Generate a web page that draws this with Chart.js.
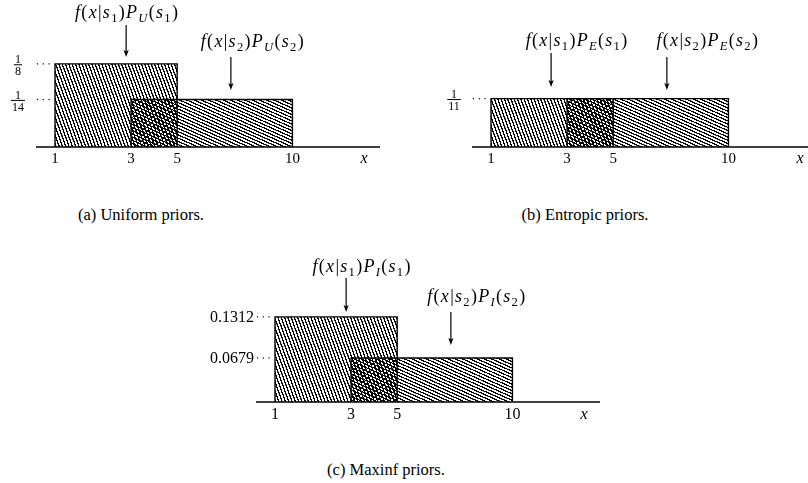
<!DOCTYPE html>
<html>
<head>
<meta charset="utf-8">
<script src="https://cdn.jsdelivr.net/npm/chart.js@4/dist/chart.umd.min.js"></script>
<style>
  html, body { margin: 0; padding: 0; background: #fff; overflow: hidden; width: 808px; height: 483px; }
  canvas.panel { position: absolute; }
  .cap { position: absolute; font-family: "Liberation Serif", "Times New Roman", serif; font-size: 16.5px;
         line-height: 18px; color: #000; transform: translateX(-50%); white-space: nowrap; }
</style>
</head>
<body>
<canvas id="panelA" class="panel" width="404" height="175" style="left:0px;top:0px"></canvas>
<canvas id="panelB" class="panel" width="404" height="175" style="left:436px;top:0px"></canvas>
<canvas id="panelC" class="panel" width="444" height="175" style="left:180px;top:255px"></canvas>
<div class="cap" id="capA" style="left:141px;top:206px"></div>
<div class="cap" id="capB" style="left:585px;top:206px"></div>
<div class="cap" id="capC" style="left:386px;top:461px"></div>
<script>
// Supports of the two likelihoods f(x|s1), f(x|s2)
const xTicks = [1, 3, 5, 10];
const s1Support = [1, 5];
const s2Support = [3, 10];

// Heights f(x|s_i) P(s_i) under each prior
const uniformHeights = [1 / 8, 1 / 14];
const entropicHeights = [1 / 11, 1 / 11];
const maxinfHeights = [0.1312, 0.0679];

// Value-axis ticks and their labels
const uniformYTicks = [1 / 8, 1 / 14];
const uniformYLabels = [['1', '8'], ['1', '14']];
const entropicYTicks = [1 / 11];
const entropicYLabels = [['1', '11']];
const maxinfYTicks = [0.1312, 0.0679];
const maxinfYLabels = ['0.1312', '0.0679'];

// Curve names (underscore marks a one-character subscript)
const uniformNames = ['f(x|s_1)P_U(s_1)', 'f(x|s_2)P_U(s_2)'];
const entropicNames = ['f(x|s_1)P_E(s_1)', 'f(x|s_2)P_E(s_2)'];
const maxinfNames = ['f(x|s_1)P_I(s_1)', 'f(x|s_2)P_I(s_2)'];

const captions = ['(a) Uniform priors.', '(b) Entropic priors.', '(c) Maxinf priors.'];

// Linear scale whose segment below a pivot is stretched by a constant factor
class WarpedScale extends Chart.LinearScale {
  warp(v) {
    const w = this.options.warp || {};
    const p = w.pivot ?? 0, k = w.stretch ?? 1;
    return v < p ? p - (p - v) * k : v;
  }
  unwarp(u) {
    const w = this.options.warp || {};
    const p = w.pivot ?? 0, k = w.stretch ?? 1;
    return u < p ? p - (p - u) / k : u;
  }
  getPixelForValue(value) {
    const a = this.warp(this.min), b = this.warp(this.max);
    return this.getPixelForDecimal((this.warp(value) - a) / (b - a));
  }
  getValueForPixel(pixel) {
    const a = this.warp(this.min), b = this.warp(this.max);
    return this.unwarp(a + this.getDecimalForPixel(pixel) * (b - a));
  }
}
WarpedScale.id = 'warped';
WarpedScale.defaults = Chart.LinearScale.defaults;
Chart.register(WarpedScale);

const SERIF = '"Liberation Serif", "Times New Roman", serif';

// Diagonal hatch pattern: lines at `angle` degrees (clockwise), given period and stroke
function hatch(angle, period, stroke) {
  const T = 40;
  const tile = document.createElement('canvas');
  tile.width = T; tile.height = T;
  const t = tile.getContext('2d');
  t.fillStyle = '#000';
  t.fillRect(0, 0, T, T * stroke / period);
  const pat = document.createElement('canvas').getContext('2d').createPattern(tile, 'repeat');
  pat.setTransform(new DOMMatrix().rotate(angle).scale(period / T));
  return pat;
}

function box(range, h) {
  return [{ x: range[0], y: 0 }, { x: range[0], y: h }, { x: range[1], y: h }, { x: range[1], y: 0 }];
}

// Math-style label: letters italic, digits and delimiters upright
function drawMath(ctx, src, cx, cy, size) {
  const toks = [];
  for (let i = 0; i < src.length; i++) {
    let c = src[i], sub = false;
    if (c === '_') { sub = true; c = src[++i]; }
    toks.push({ c, sub });
  }
  const fontFor = t => (/[A-Za-z]/.test(t.c) ? 'italic ' : '') + (t.sub ? size * 0.7 : size) + 'px ' + SERIF;
  const gap = 1.3;
  let w = 0;
  toks.forEach(t => { ctx.font = fontFor(t); t.w = ctx.measureText(t.c).width + gap; w += t.w; });
  let x = cx - w / 2;
  ctx.textAlign = 'left';
  ctx.textBaseline = 'alphabetic';
  const base = cy + size * 0.24;
  toks.forEach(t => {
    ctx.font = fontFor(t);
    ctx.fillText(t.c, x, base + (t.sub ? size * 0.2 : 0));
    x += t.w;
  });
}

function overlay(cfg) {
  return {
    id: 'figureOverlay',
    afterDraw(chart) {
      const ctx = chart.ctx, area = chart.chartArea;
      const xs = chart.scales.x, ys = chart.scales.y;
      const y0 = area.bottom;
      ctx.save();
      ctx.fillStyle = '#000';
      ctx.strokeStyle = '#000';

      // horizontal axis
      ctx.lineWidth = 1.5;
      ctx.beginPath();
      ctx.moveTo(area.left, y0);
      ctx.lineTo(area.right, y0);
      ctx.stroke();

      // x tick labels
      ctx.font = cfg.tickSize + 'px ' + SERIF;
      ctx.textAlign = 'center';
      ctx.textBaseline = 'alphabetic';
      xTicks.forEach(v => ctx.fillText(String(v), xs.getPixelForValue(v), y0 + cfg.tickBase));
      ctx.font = 'italic ' + (cfg.tickSize + 1) + 'px ' + SERIF;
      ctx.fillText('x', area.right - 16, y0 + cfg.tickBase);

      // dotted leaders and value labels
      const boxLeft = xs.getPixelForValue(s1Support[0]);
      cfg.yTicks.forEach((v, i) => {
        const py = ys.getPixelForValue(v);
        for (let dx = area.left + 1.5; dx < boxLeft - 3; dx += 5.8) {
          ctx.fillRect(dx - 0.6, py - 0.6, 1.2, 1.2);
        }
        const lab = cfg.yLabels[i];
        if (Array.isArray(lab)) {
          const cx = area.left - 18;
          ctx.font = '12px ' + SERIF;
          ctx.textAlign = 'center';
          const bw = Math.max(ctx.measureText(lab[0]).width, ctx.measureText(lab[1]).width) + 2;
          ctx.textBaseline = 'alphabetic';
          ctx.fillText(lab[0], cx, py - 0.8);
          ctx.fillRect(cx - bw / 2, py + 0.4, bw, 1);
          ctx.textBaseline = 'top';
          ctx.fillText(lab[1], cx, py + 2.4);
        } else {
          ctx.font = cfg.tickSize + 'px ' + SERIF;
          ctx.textAlign = 'right';
          ctx.textBaseline = 'middle';
          ctx.fillText(lab, area.left - 2, py + 0.5);
        }
      });

      // arrows with curve names
      cfg.arrows.forEach((a, i) => {
        const px = xs.getPixelForValue(a.x);
        const tip = ys.getPixelForValue(a.tip);
        const tail = tip - a.len;
        ctx.lineWidth = 1.2;
        ctx.beginPath();
        ctx.moveTo(px, tail);
        ctx.lineTo(px, tip - 4);
        ctx.stroke();
        ctx.beginPath();
        ctx.moveTo(px, tip);
        ctx.lineTo(px - 2.6, tip - 7);
        ctx.lineTo(px, tip - 5.5);
        ctx.lineTo(px + 2.6, tip - 7);
        ctx.closePath();
        ctx.fill();
        drawMath(ctx, cfg.names[i], px + a.dx, tail - a.gap, 18);
      });
      ctx.restore();
    }
  };
}

function buildPanel(id, heights, yMax, padLeft, cfg) {
  const s1Fill = hatch(70, 3.1, 1.3);
  const s2Fill = hatch(24, 2.95, 1.25);
  return new Chart(document.getElementById(id), {
    type: 'line',
    data: {
      datasets: [
        { data: box(s1Support, heights[0]), backgroundColor: s1Fill, borderColor: '#000', borderWidth: 1.4, fill: 'origin' },
        { data: box(s2Support, heights[1]), backgroundColor: s2Fill, borderColor: '#000', borderWidth: 1.4, fill: 'origin' }
      ]
    },
    options: {
      responsive: false,
      animation: false,
      devicePixelRatio: 1,
      layout: { padding: { left: padLeft, right: 24, top: 14, bottom: 28 } },
      elements: { point: { radius: 0, hoverRadius: 0 }, line: { tension: 0 } },
      plugins: { legend: { display: false }, tooltip: { enabled: false } },
      events: [],
      scales: {
        x: { type: 'warped', min: 0.5, max: 13.8, display: false, warp: { pivot: 3, stretch: 1.65 } },
        y: { type: 'linear', min: 0, max: yMax, display: false }
      }
    },
    plugins: [overlay(cfg)]
  });
}

buildPanel('panelA', uniformHeights, 0.2, 36, {
  yTicks: uniformYTicks, yLabels: uniformYLabels, names: uniformNames, tickSize: 15, tickBase: 16,
  arrows: [{ x: 2.87, tip: 0.1353, len: 32, dx: 1, gap: 11 }, { x: 7.33, tip: 0.0857, len: 33, dx: 22, gap: 14 }]
});
buildPanel('panelB', entropicHeights, 0.25, 36, {
  yTicks: entropicYTicks, yLabels: entropicYLabels, names: entropicNames, tickSize: 15, tickBase: 16,
  arrows: [{ x: 2.58, tip: 0.1128, len: 34, dx: 26, gap: 11 }, { x: 7.33, tip: 0.1071, len: 33, dx: 41, gap: 15 }]
});
buildPanel('panelC', maxinfHeights, 0.205, 76, {
  yTicks: maxinfYTicks, yLabels: maxinfYLabels, names: maxinfNames, tickSize: 16, tickBase: 17,
  arrows: [{ x: 2.87, tip: 0.1387, len: 34, dx: 16, gap: 10 }, { x: 7.33, tip: 0.0879, len: 33, dx: 26, gap: 14 }]
});

document.getElementById('capA').textContent = captions[0];
document.getElementById('capB').textContent = captions[1];
document.getElementById('capC').textContent = captions[2];
</script>
</body>
</html>
